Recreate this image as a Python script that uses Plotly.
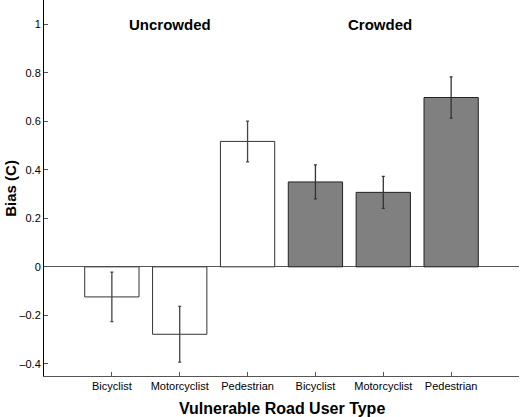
import plotly.graph_objects as go

categories = ["Bicyclist", "Motorcyclist", "Pedestrian", "Bicyclist", "Motorcyclist", "Pedestrian"]
positions = [1, 2, 3, 4, 5, 6]
uncrowded_vals = [-0.124, -0.278, 0.517]
uncrowded_err = [0.102, 0.115, 0.084]
crowded_vals = [0.350, 0.307, 0.698]
crowded_err = [0.070, 0.066, 0.085]
y_ticks = [-0.4, -0.2, 0, 0.2, 0.4, 0.6, 0.8, 1]
y_ticktext = ["\u20130.4", "\u20130.2", "0", "0.2", "0.4", "0.6", "0.8", "1"]

font = "Liberation Sans, Arial, Helvetica, sans-serif"

fig = go.Figure()
fig.add_trace(go.Bar(
    x=positions[:3], y=uncrowded_vals, width=0.8,
    marker=dict(color="white", line=dict(color="#333333", width=1)),
    error_y=dict(type="data", array=uncrowded_err, color="#444444", thickness=1.3, width=1.5),
    showlegend=False,
))
fig.add_trace(go.Bar(
    x=positions[3:], y=crowded_vals, width=0.8,
    marker=dict(color="#808080", line=dict(color="#222222", width=1)),
    error_y=dict(type="data", array=crowded_err, color="#333333", thickness=1.3, width=1.5),
    showlegend=False,
))

fig.add_annotation(x=1.86, y=1.0, text="<b>Uncrowded</b>", showarrow=False,
                   font=dict(family=font, size=15, color="black"), xanchor="center", yanchor="middle")
fig.add_annotation(x=4.95, y=1.0, text="<b>Crowded</b>", showarrow=False,
                   font=dict(family=font, size=15, color="black"), xanchor="center", yanchor="middle")
fig.add_annotation(xref="paper", yref="paper", x=0.5, y=-0.058, text="<b>Vulnerable Road User Type</b>",
                   showarrow=False, font=dict(family=font, size=16, color="black"),
                   xanchor="center", yanchor="top")
fig.add_annotation(xref="paper", yref="paper", x=-0.072, y=0.5, text="<b>Bias (C)</b>", textangle=-90,
                   showarrow=False, font=dict(family=font, size=15, color="black"),
                   xanchor="center", yanchor="middle")

fig.update_layout(
    width=520, height=417,
    margin=dict(l=44, r=1, t=0, b=41),
    plot_bgcolor="white", paper_bgcolor="white",
    bargap=0.2,
    font=dict(family=font, size=11, color="black"),
    xaxis=dict(
        range=[0, 7], tickvals=positions + [7], ticktext=categories + [""],
        ticks="inside", ticklen=4, tickcolor="#555555",
        showline=True, linecolor="#555555", linewidth=1,
        showgrid=False, zeroline=False,
        tickfont=dict(size=11),
    ),
    yaxis=dict(
        range=[-0.45, 1.1], tickvals=y_ticks, ticktext=y_ticktext,
        ticks="inside", ticklen=4, tickcolor="#555555",
        showline=True, linecolor="black", linewidth=1,
        showgrid=False, zeroline=True, zerolinecolor="#555555", zerolinewidth=1,
        tickfont=dict(size=11),
    ),
)

fig.write_html(
    "out.html",
    config={"displayModeBar": False},
    post_script="document.body.style.margin='0';document.body.style.overflow='hidden';"
                "document.documentElement.style.overflow='hidden';",
)
